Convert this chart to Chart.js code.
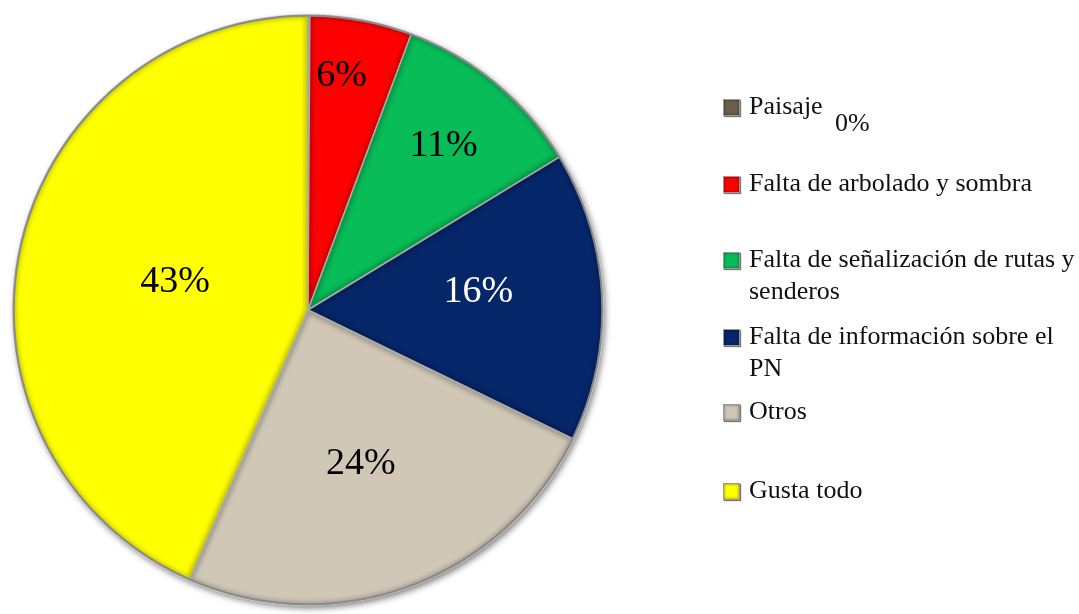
<!DOCTYPE html>
<html>
<head>
<meta charset="utf-8">
<script src="https://cdn.jsdelivr.net/npm/chart.js@4/dist/chart.umd.min.js"></script>
<style>
  html, body { margin: 0; padding: 0; background: #fff; }
  #wrap { position: relative; width: 1079px; height: 614px; }
  #pieChart { position: absolute; left: 0; top: 0; }
  #legend { position: absolute; left: 722px; top: 0; width: 357px; font-family: "Liberation Serif", "DejaVu Serif", serif; font-size: 26px; color: #111; }
  #legend .item { position: absolute; left: 0; width: 357px; line-height: 32px; padding-left: 27px; box-sizing: border-box; }
  #legend .box { position: absolute; left: 1px; top: 9px; width: 15px; height: 15px; border: 1px solid #999; box-shadow: 1px 1px 1px #777, inset 0 0 3px rgba(0,0,0,0.5); }
  #legend .pct { position: absolute; font-size: 26px; }
</style>
</head>
<body>
<div id="wrap">
  <canvas id="pieChart" width="1079" height="614"></canvas>
  <div id="legend"></div>
</div>
<script>
const categories = ['Paisaje', 'Falta de arbolado y sombra', 'Falta de señalización de rutas y senderos', 'Falta de información sobre el PN', 'Otros', 'Gusta todo'];
const values = [0.1, 5.6, 10.6, 15.9, 24.4, 43.4];
const colorList = ['#6b5f4b', '#ff0000', '#08bc57', '#06266a', '#d0c7b6', '#ffff00'];

const total = values.reduce((a, b) => a + b, 0);
const pctText = v => Math.round(v / total * 100) + '%';

// label placement inside each slice: fraction of radius, angle nudge (rad), text colour
const labelDist = [0, 0.8, 0.72, 0.58, 0.55, 0.46];
const labelNudge = [0, -0.04, 0, -0.06, 0.02, 0];
const labelColor = ['#000', '#000', '#000', '#fff', '#000', '#000'];

const shadowPlugin = {
    id: 'pieShadow',
    beforeDatasetsDraw(chart) {
        const ctx = chart.ctx;
        ctx.save();
        ctx.shadowColor = 'rgba(0,0,0,0.5)';
        ctx.shadowBlur = 6;
        ctx.shadowOffsetX = 2;
        ctx.shadowOffsetY = 3;
        const arc = chart.getDatasetMeta(0).data[0];
        ctx.beginPath();
        ctx.arc(arc.x, arc.y, arc.outerRadius, 0, Math.PI * 2);
        ctx.fillStyle = '#888';
        ctx.fill();
        ctx.restore();
    },
    afterDatasetsDraw(chart) {
        const ctx = chart.ctx;
        const meta = chart.getDatasetMeta(0);
        const first = meta.data[0];
        // soft bevel inside each slice
        meta.data.forEach(arc => {
            ctx.save();
            ctx.beginPath();
            ctx.moveTo(arc.x, arc.y);
            ctx.arc(arc.x, arc.y, arc.outerRadius, arc.startAngle, arc.endAngle);
            ctx.closePath();
            ctx.clip();
            ctx.filter = 'blur(2px)';
            ctx.lineWidth = 7;
            ctx.strokeStyle = 'rgba(0,0,0,0.22)';
            ctx.stroke();
            ctx.restore();
        });
        ctx.save();
        ctx.beginPath();
        ctx.arc(first.x, first.y, first.outerRadius - 1, 0, Math.PI * 2);
        ctx.strokeStyle = '#8a8a8a';
        ctx.lineWidth = 2;
        ctx.stroke();
        ctx.font = '38px "Liberation Serif", serif';
        ctx.textAlign = 'center';
        ctx.textBaseline = 'middle';
        meta.data.forEach((arc, i) => {
            if (!labelDist[i]) return;
            const mid = (arc.startAngle + arc.endAngle) / 2 + labelNudge[i];
            const r = arc.outerRadius * labelDist[i];
            ctx.fillStyle = labelColor[i];
            ctx.fillText(pctText(values[i]), arc.x + Math.cos(mid) * r, arc.y + Math.sin(mid) * r);
        });
        ctx.restore();
    }
};

const ctx = document.getElementById('pieChart');
const myChart = new Chart(ctx, {
    type: 'pie',
    data: {
        labels: categories,
        datasets: [{
            data: values,
            backgroundColor: colorList,
            borderColor: '#d4d4d4',
            borderWidth: 1.5
        }]
    },
    options: {
        responsive: false,
        animation: false,
        layout: {
            padding: { left: 12, right: 475, top: 14, bottom: 8 }
        },
        plugins: {
            legend: { display: false },
            tooltip: { enabled: false }
        }
    },
    plugins: [shadowPlugin]
});

// html legend, wrapped like the original
const legendTop = [90, 167, 243, 320, 395, 474];
const legend = document.getElementById('legend');
categories.forEach((name, i) => {
    const item = document.createElement('div');
    item.className = 'item';
    item.style.top = legendTop[i] + 'px';
    item.innerHTML = `<span class="box" style="background:${colorList[i]}"></span>${name}`;
    legend.appendChild(item);
});
// the 0% label of the empty slice sits next to its legend entry
const zero = document.createElement('span');
zero.className = 'pct';
zero.style.left = '113px';
zero.style.top = '108px';
zero.textContent = pctText(values[0]);
legend.appendChild(zero);
</script>
</body>
</html>
